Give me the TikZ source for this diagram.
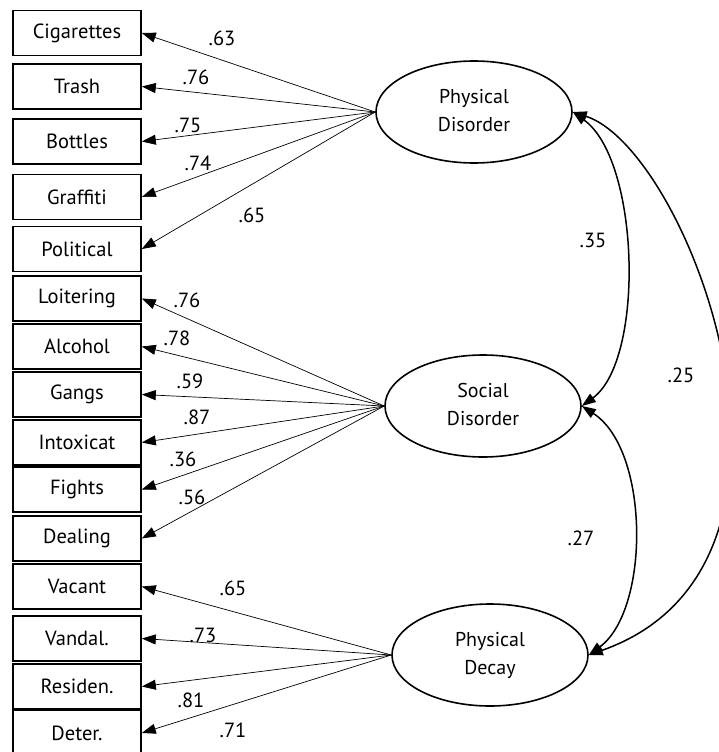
\documentclass[tikz,border=0pt]{standalone}
\usepackage{fontspec}
\setmainfont{PT Sans}
\usetikzlibrary{arrows.meta,shapes.geometric}
\newcommand{\twolines}[2]{\raisebox{4pt}{\begin{tabular}{@{}c@{}}#1\\#2\end{tabular}}}
\tikzset{
  ind/.style={draw, line width=1.6pt, minimum width=128pt, minimum height=45pt, inner sep=0pt, font=\fontsize{20.5}{24}\selectfont},
  lat/.style={draw, ellipse, line width=1.6pt, minimum width=196pt, minimum height=102pt, inner sep=0pt, font=\fontsize{20}{28}\selectfont},
  load/.style={-{Triangle[length=14pt,width=10pt]}, line width=0.7pt},
  cov/.style={{Triangle[length=14pt,width=10pt]}-{Triangle[length=14pt,width=10pt]}, line width=1.5pt},
  lbl/.style={inner sep=0pt, font=\fontsize{20.5}{24}\selectfont}
}
\begin{document}
\begin{tikzpicture}[x=1pt,y=-1pt]
\useasboundingbox (0,0) rectangle (718,752);
% indicators
\node[ind] (cig) at (77,33) {Cigarettes};
\node[ind] (trash) at (77,86.5) {Trash};
\node[ind] (bottles) at (77,141.5) {Bottles};
\node[ind] (graffiti) at (77,197) {Graffiti};
\node[ind] (political) at (77,249) {Political};
\node[ind] (loiter) at (77,298.5) {Loitering};
\node[ind] (alcohol) at (77,346.5) {Alcohol};
\node[ind] (gangs) at (77,394.5) {Gangs};
\node[ind] (intox) at (77,442.5) {Intoxicat};
\node[ind] (fights) at (77,489.5) {Fights};
\node[ind] (dealing) at (77,538.5) {Dealing};
\node[ind] (vacant) at (77,586.5) {Vacant};
\node[ind] (vandal) at (77,638.5) {Vandal.};
\node[ind] (resid) at (77,686.5) {Residen.};
\node[ind] (deter) at (77,733) {Deter.};
% latents
\node[lat] (pdis) at (474,112) {\twolines{Physical}{Disorder}};
\node[lat] (sdis) at (483,406) {\twolines{Social}{Disorder}};
\node[lat] (pdec) at (490,655) {\twolines{Physical}{Decay}};
% loadings
\foreach \t in {cig,trash,bottles,graffiti,political}
  \draw[load] (pdis.west) -- (\t.east);
\foreach \t in {loiter,alcohol,gangs,intox,fights,dealing}
  \draw[load] (sdis.west) -- (\t.east);
\foreach \t in {vacant,vandal,resid,deter}
  \draw[load] (pdec.west) -- (\t.east);
% loading labels
\node[lbl] at (222,38) {.63};
\node[lbl] at (196,77) {.76};
\node[lbl] at (188,125) {.75};
\node[lbl] at (198,163) {.74};
\node[lbl] at (252,215) {.65};
\node[lbl] at (187,300) {.76};
\node[lbl] at (177,338) {.78};
\node[lbl] at (190,381) {.59};
\node[lbl] at (197,417) {.87};
\node[lbl] at (183,459) {.36};
\node[lbl] at (192,497) {.56};
\node[lbl] at (233,588) {.65};
\node[lbl] at (203,635) {.73};
\node[lbl] at (191,700) {.81};
\node[lbl] at (233,730) {.71};
% covariances
\draw[cov] (pdis.east) .. controls (640,160) and (645,360) .. (sdis.east);
\draw[cov] (sdis.east) .. controls (650,450) and (650,610) .. (pdec.east);
\draw[cov] (pdis.east) .. controls (690,150) and (845,565) .. (pdec.east);
\node[lbl] at (593,240) {.35};
\node[lbl] at (581,538) {.27};
\node[lbl] at (681,375) {.25};
\end{tikzpicture}
\end{document}
